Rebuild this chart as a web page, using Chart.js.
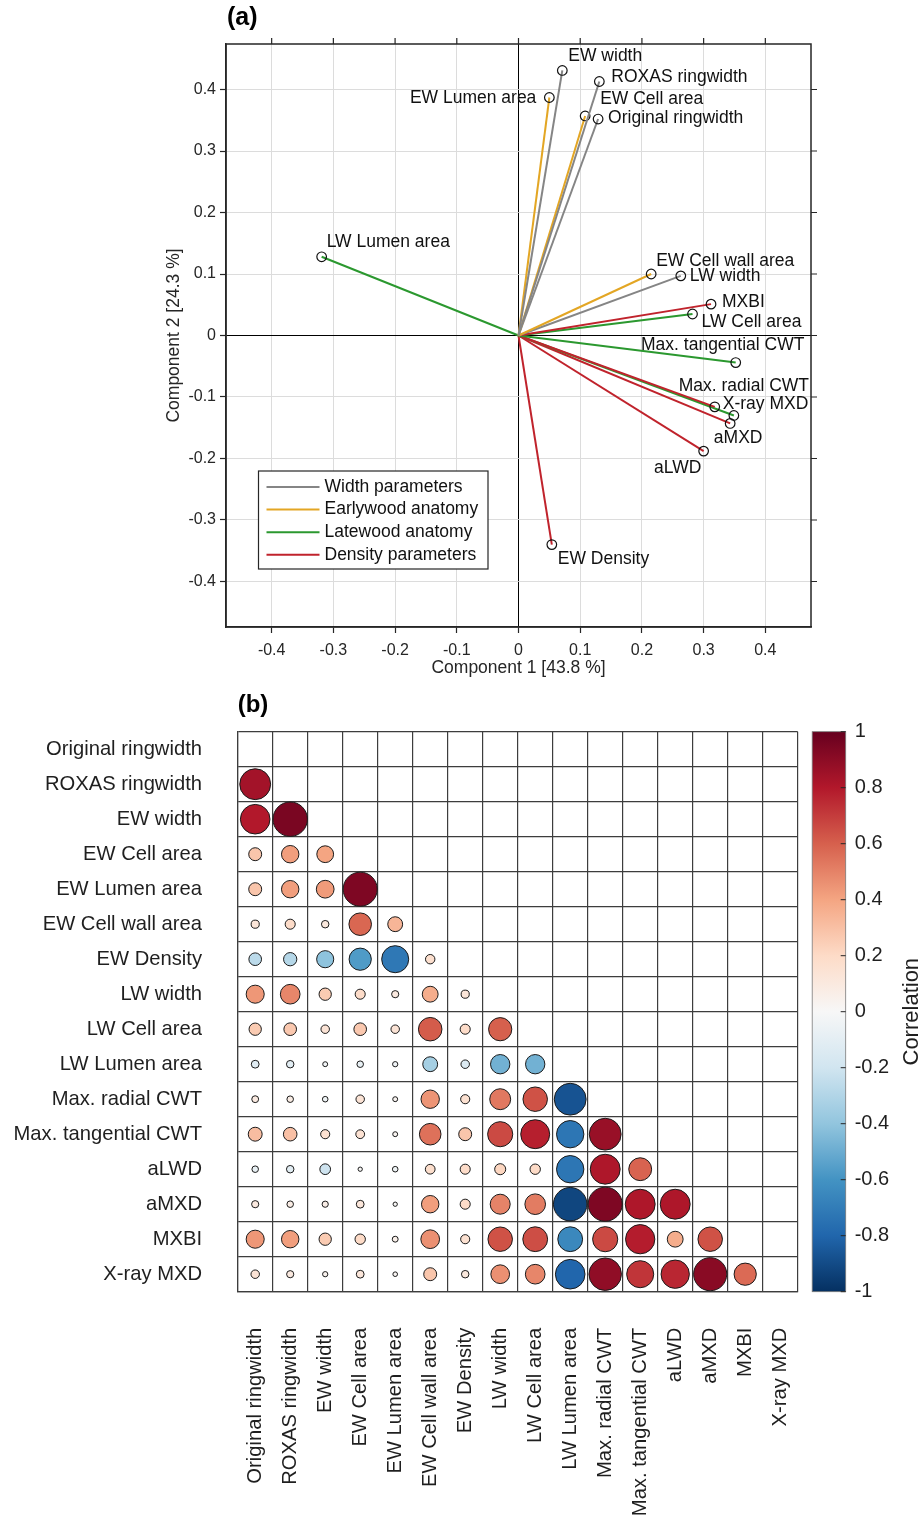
<!DOCTYPE html>
<html><head><meta charset="utf-8">
<script src="https://cdn.jsdelivr.net/npm/chart.js@4/dist/chart.umd.min.js"></script>
<style>
html,body{margin:0;padding:0;background:#fff;}
#wrap{position:relative;width:924px;height:1519px;overflow:hidden;}
#ca{position:absolute;left:0;top:0;width:924px;height:680px;}
#cb{position:absolute;left:0;top:680px;width:924px;height:839px;}
</style></head><body>
<div id="wrap">
<canvas id="ca" width="924" height="680"></canvas>
<canvas id="cb" width="924" height="839"></canvas>
</div>
<script>
// ---------- (a) PCA biplot data ----------
const groupNames = ['Width parameters', 'Earlywood anatomy', 'Latewood anatomy', 'Density parameters'];
const pcaNames = ['EW width', 'ROXAS ringwidth', 'EW Lumen area', 'EW Cell area', 'Original ringwidth',
  'LW Lumen area', 'EW Cell wall area', 'LW width', 'MXBI', 'LW Cell area', 'Max. tangential CWT',
  'X-ray MXD', 'Max. radial CWT', 'aMXD', 'aLWD', 'EW Density'];
const pc1 = [0.071, 0.131, 0.050, 0.108, 0.129, -0.319, 0.215, 0.263, 0.312, 0.282, 0.352, 0.318, 0.349, 0.343, 0.300, 0.054];
const pc2 = [0.431, 0.413, 0.387, 0.357, 0.352, 0.128, 0.100, 0.097, 0.051, 0.035, -0.044, -0.116, -0.130, -0.143, -0.188, -0.340];
const pcaGroup = [0, 0, 1, 1, 0, 2, 1, 0, 3, 2, 2, 3, 2, 3, 3, 3];
const axisTicks = [-0.4, -0.3, -0.2, -0.1, 0, 0.1, 0.2, 0.3, 0.4];

// ---------- (b) correlation matrix data (lower triangle, by row) ----------
const varNames = ['Original ringwidth', 'ROXAS ringwidth', 'EW width', 'EW Cell area', 'EW Lumen area',
  'EW Cell wall area', 'EW Density', 'LW width', 'LW Cell area', 'LW Lumen area', 'Max. radial CWT',
  'Max. tangential CWT', 'aLWD', 'aMXD', 'MXBI', 'X-ray MXD'];
const corrOriginal = [];
const corrROXAS = [0.84];
const corrEWwidth = [0.80, 0.95];
const corrEWCell = [0.28, 0.42, 0.40];
const corrEWLumen = [0.28, 0.42, 0.43, 0.94];
const corrEWWall = [0.13, 0.19, 0.11, 0.58, 0.34];
const corrEWDensity = [-0.27, -0.29, -0.41, -0.57, -0.72, 0.17];
const corrLWwidth = [0.44, 0.49, 0.26, 0.19, 0.10, 0.37, 0.13];
const corrLWCell = [0.26, 0.27, 0.14, 0.27, 0.14, 0.61, 0.19, 0.60];
const corrLWLumen = [-0.12, -0.11, -0.03, -0.08, -0.04, -0.34, -0.14, -0.48, -0.48];
const corrMaxRadial = [0.09, 0.08, -0.05, 0.14, 0.03, 0.45, 0.16, 0.53, 0.64, -0.87];
const corrMaxTang = [0.31, 0.30, 0.16, 0.15, 0.03, 0.55, 0.28, 0.66, 0.78, -0.73, 0.87];
const corrALWD = [-0.08, -0.11, -0.21, 0.01, -0.05, 0.18, 0.19, 0.22, 0.20, -0.73, 0.81, 0.59];
const corrAMXD = [0.10, 0.08, 0.07, 0.12, 0.01, 0.42, 0.19, 0.50, 0.52, -0.92, 0.94, 0.81, 0.81];
const corrMXBI = [0.44, 0.42, 0.26, 0.20, 0.06, 0.46, 0.16, 0.64, 0.65, -0.65, 0.66, 0.79, 0.37, 0.64];
const corrXrayMXD = [0.14, 0.10, 0.04, 0.12, 0.02, 0.28, 0.11, 0.46, 0.49, -0.80, 0.89, 0.72, 0.76, 0.91, 0.57];
const corrTicks = [-1, -0.8, -0.6, -0.4, -0.2, 0, 0.2, 0.4, 0.6, 0.8, 1];

// ---------- styles (not data) ----------
const FONT = '"Liberation Sans", Arial, Helvetica, sans-serif';
const groupColors = ['#858585', '#e3a624', '#2b982f', '#c0232c'];
// label placement: [dx px, dy px, textAlign]
const labelPlace = [
  [6, -14, 'left'], [12, -4, 'left'], [-13, 1, 'right'], [15, -17, 'left'], [10, -1, 'left'],
  [5, -15, 'left'], [5, -13, 'left'], [9, 0, 'left'], [11, -2, 'left'], [9, 8, 'left'],
  [-13, -17, 'center'], [8, -3, 'left'], [10, -29, 'center'], [8, 15, 'center'], [-26, 17, 'center'],
  [6, 15, 'left']
];
const rdbu = [[5,48,97],[33,102,172],[67,147,195],[146,197,222],[209,229,240],[247,247,247],
  [253,219,199],[244,165,130],[214,96,77],[178,24,43],[103,0,31]];

function corrColor(v) {
  const t = Math.max(0, Math.min(10, (v + 1) / 2 * 10));
  const i = Math.min(9, Math.floor(t)), f = t - i;
  const a = rdbu[i], b = rdbu[i + 1];
  const c = a.map((x, k) => Math.round(x + (b[k] - x) * f));
  return 'rgb(' + c.join(',') + ')';
}
function fmt(v) { let r = Math.round(v * 100) / 100; if (Object.is(r, -0)) r = 0; return String(r); }

Chart.defaults.font.family = FONT;
Chart.defaults.color = '#1f1f1f';
Chart.defaults.animation = false;

// ---------- chart (a) ----------
const pcaDatasets = pcaNames.map((n, i) => ({
  label: n,
  data: [{x: 0, y: 0}, {x: pc1[i], y: pc2[i]}],
  showLine: true,
  borderColor: groupColors[pcaGroup[i]],
  borderWidth: 2,
  pointRadius: ctx => ctx.dataIndex === 1 ? 4.8 : 0,
  pointBorderColor: '#111',
  pointBackgroundColor: 'rgba(0,0,0,0)',
  pointBorderWidth: 1.2,
  clip: false
}));

const pcaDecor = {
  id: 'pcaDecor',
  afterDatasetsDraw(chart) {
    const {ctx, chartArea: a, scales: {x, y}} = chart;
    ctx.save();
    ctx.strokeStyle = '#262626'; ctx.lineWidth = 1.5;
    ctx.strokeRect(a.left, a.top, a.right - a.left, a.bottom - a.top);
    ctx.lineWidth = 1.2; ctx.beginPath();
    axisTicks.forEach(v => { const px = x.getPixelForValue(v); ctx.moveTo(px, a.top); ctx.lineTo(px, a.top - 6); });
    axisTicks.forEach(v => { const py = y.getPixelForValue(v); ctx.moveTo(a.right, py); ctx.lineTo(a.right + 6, py); });
    ctx.stroke();
    // vector labels
    ctx.font = '17.5px ' + FONT; ctx.fillStyle = '#111'; ctx.textBaseline = 'middle';
    pcaNames.forEach((n, i) => {
      const px = x.getPixelForValue(pc1[i]), py = y.getPixelForValue(pc2[i]);
      const p = labelPlace[i];
      ctx.textAlign = p[2];
      ctx.fillText(n, px + p[0], py + p[1]);
    });
    // legend
    const lx = a.left + 32.5, ly = a.top + 427, lw = 229.5, lh = 98;
    ctx.fillStyle = '#fff'; ctx.fillRect(lx, ly, lw, lh);
    ctx.strokeStyle = '#262626'; ctx.lineWidth = 1.2; ctx.strokeRect(lx, ly, lw, lh);
    ctx.textAlign = 'left';
    groupNames.forEach((g, k) => {
      const ry = ly + 16 + k * 22.6;
      ctx.strokeStyle = groupColors[k]; ctx.lineWidth = 2;
      ctx.beginPath(); ctx.moveTo(lx + 8, ry); ctx.lineTo(lx + 61, ry); ctx.stroke();
      ctx.fillStyle = '#111'; ctx.fillText(g, lx + 66, ry);
    });
    // panel title
    ctx.font = 'bold 25px ' + FONT; ctx.fillStyle = '#000'; ctx.textAlign = 'left';
    ctx.fillText('(a)', a.left + 1, 18);
    ctx.restore();
  }
};

new Chart(document.getElementById('ca'), {
  type: 'scatter',
  data: {datasets: pcaDatasets},
  plugins: [pcaDecor],
  options: {
    responsive: false, animation: false, events: [],
    layout: {padding: {top: 44, right: 113, bottom: 0, left: 0}},
    plugins: {legend: {display: false}, tooltip: {enabled: false}},
    scales: {
      x: {
        type: 'linear', min: -0.474, max: 0.474, position: 'bottom',
        afterBuildTicks(s) { s.ticks = axisTicks.map(v => ({value: v})); },
        ticks: {padding: 8, font: {size: 16}, color: '#262626', callback: v => fmt(v)},
        grid: {color: c => (c.tick && c.tick.value === 0) ? '#000' : '#dcdcdc', lineWidth: 1,
               drawTicks: true, tickLength: 6, tickColor: '#262626', tickWidth: 1.2},
        border: {display: true, color: '#262626', width: 1.5},
        title: {display: true, text: 'Component 1 [43.8 %]', font: {size: 17.5}, color: '#262626', padding: {top: 0, bottom: 1.5}},
        afterFit(s) { s.height = 53; }
      },
      y: {
        type: 'linear', min: -0.474, max: 0.474, position: 'left',
        afterBuildTicks(s) { s.ticks = axisTicks.map(v => ({value: v})); },
        ticks: {padding: 4, font: {size: 16}, color: '#262626', callback: v => fmt(v)},
        grid: {color: c => (c.tick && c.tick.value === 0) ? '#000' : '#dcdcdc', lineWidth: 1,
               drawTicks: true, tickLength: 6, tickColor: '#262626', tickWidth: 1.2},
        border: {display: true, color: '#262626', width: 1.5},
        title: {display: true, text: 'Component 2 [24.3 %]', font: {size: 17.5}, color: '#262626', padding: {top: 163.5, bottom: 0}},
        afterFit(s) { s.width = 226; }
      }
    }
  }
});

// ---------- chart (b) ----------
const corrRows = [corrOriginal, corrROXAS, corrEWwidth, corrEWCell, corrEWLumen, corrEWWall, corrEWDensity,
  corrLWwidth, corrLWCell, corrLWLumen, corrMaxRadial, corrMaxTang, corrALWD, corrAMXD, corrMXBI, corrXrayMXD];
const bubbleData = [];
corrRows.forEach((row, i) => row.forEach((v, j) => bubbleData.push({x: varNames[j], y: varNames[i], v: v})));

const corrDecor = {
  id: 'corrDecor',
  afterDraw(chart) {
    const {ctx, chartArea: a} = chart;
    const cb = chart.scales.cb;
    ctx.save();
    const y1 = cb.getPixelForValue(1), y0 = cb.getPixelForValue(-1);
    const bx = a.right + 14.5, bw = 33.5;
    const g = ctx.createLinearGradient(0, y0, 0, y1);
    rdbu.forEach((c, k) => g.addColorStop(k / 10, 'rgb(' + c.join(',') + ')'));
    ctx.fillStyle = g; ctx.fillRect(bx, y1, bw, y0 - y1);
    ctx.strokeStyle = '#7a7a7a'; ctx.lineWidth = 0.8; ctx.strokeRect(bx, y1, bw, y0 - y1);
    ctx.strokeStyle = '#262626'; ctx.lineWidth = 1; ctx.beginPath();
    corrTicks.forEach(v => { const py = cb.getPixelForValue(v); ctx.moveTo(bx + bw, py); ctx.lineTo(bx + bw - 5, py); });
    ctx.stroke();
    ctx.fillStyle = '#1f1f1f'; ctx.font = '22px ' + FONT; ctx.textAlign = 'center'; ctx.textBaseline = 'middle';
    ctx.translate(912, (y0 + y1) / 2); ctx.rotate(-Math.PI / 2); ctx.fillText('Correlation', 0, 0);
    ctx.restore();
    ctx.save();
    ctx.font = 'bold 24px ' + FONT; ctx.fillStyle = '#000'; ctx.textAlign = 'left'; ctx.textBaseline = 'middle';
    ctx.fillText('(b)', a.left, 25);
    ctx.restore();
  }
};

const gridC = '#3d3d3d';
new Chart(document.getElementById('cb'), {
  type: 'bubble',
  data: {datasets: [{
    data: bubbleData,
    radius: c => (c.raw && c.raw.v !== undefined) ? 2 + 16 * Math.abs(c.raw.v) : 3,
    backgroundColor: c => (c.raw && c.raw.v !== undefined) ? corrColor(c.raw.v) : '#fff',
    borderColor: '#1a1a1a', borderWidth: 1, clip: false
  }]},
  plugins: [corrDecor],
  options: {
    responsive: false, animation: false, events: [],
    layout: {padding: {top: 51.7, right: 0, bottom: 0, left: 0}},
    plugins: {legend: {display: false}, tooltip: {enabled: false}},
    scales: {
      x: {
        type: 'category', labels: varNames, min: varNames[0], max: varNames[15], offset: true, position: 'bottom',
        grid: {offset: true, color: gridC, lineWidth: 1.2, drawTicks: false},
        border: {display: true, color: gridC, width: 1.2},
        ticks: {autoSkip: false, maxRotation: 90, minRotation: 90, padding: 36, font: {size: 20.2}, color: '#1f1f1f'},
        afterFit(s) { s.height = 227.3; }
      },
      y: {
        type: 'category', labels: varNames, min: varNames[0], max: varNames[15], offset: true, position: 'left',
        grid: {offset: true, drawTicks: true, tickLength: 32, tickColor: 'rgba(0,0,0,0)', color: gridC, lineWidth: 1.2},
        border: {display: true, color: gridC, width: 1.2},
        ticks: {autoSkip: false, padding: 3.7, font: {size: 20.2}, color: '#1f1f1f'},
        afterFit(s) { s.width = 237.7; }
      },
      cb: {
        type: 'linear', axis: 'y', position: 'right', min: -1, max: 1,
        afterBuildTicks(s) { s.ticks = corrTicks.map(v => ({value: v})); },
        ticks: {padding: 4, font: {size: 20}, color: '#1f1f1f', callback: v => fmt(v)},
        grid: {display: true, drawOnChartArea: false, drawTicks: true, tickLength: 53,
               tickColor: 'rgba(0,0,0,0)', color: 'rgba(0,0,0,0)'},
        border: {display: false},
        afterFit(s) { s.width = 126.3; }
      }
    }
  }
});
</script>
</body></html>
